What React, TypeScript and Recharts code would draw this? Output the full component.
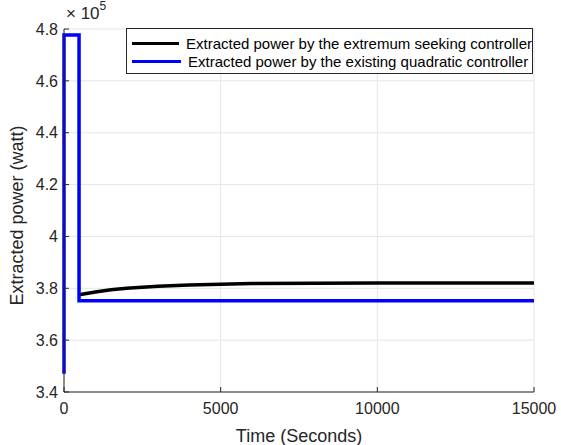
import { LineChart, Line, XAxis, YAxis, CartesianGrid } from "recharts";

// values in units of 1e5 watt
const quadTime = [0, 0, 480, 480, 15000];
const quadPower = [3.47, 4.777, 4.777, 3.752, 3.752];

const esTime = [480, 1000, 1500, 2000, 3000, 4000, 5000, 6000, 8000, 10000, 15000];
const esPower = [3.775, 3.786, 3.794, 3.8, 3.808, 3.813, 3.816, 3.818, 3.819, 3.82, 3.82];

const xTicks = [0, 5000, 10000, 15000];
const yTicks = [3.4, 3.6, 3.8, 4, 4.2, 4.4, 4.6, 4.8];

const seriesNames = [
  "Extracted power by the extremum seeking controller",
  "Extracted power by the existing quadratic controller",
];

const esData = esTime.map((t, i) => ({ t, p: esPower[i] }));
const quadData = quadTime.map((t, i) => ({ t, p: quadPower[i] }));

const font = "'Liberation Sans', Arial, sans-serif";
const tickStyle = { fontSize: 16, fill: "#262626", fontFamily: font };
const labelStyle = { fontSize: 18, fill: "#262626", fontFamily: font };

function LegendBox() {
  const colors = ["#000000", "#0000ff"];
  return (
    <div
      style={{
        position: "absolute",
        left: 126,
        top: 28,
        width: 407,
        height: 46,
        border: "1px solid #262626",
        background: "#fff",
        boxSizing: "border-box",
        fontFamily: font,
        fontSize: 15,
        color: "#000",
        paddingTop: 5,
      }}
    >
      {seriesNames.map((n, i) => (
        <div key={n} style={{ display: "flex", alignItems: "center", height: 18, whiteSpace: "nowrap" }}>
          <div style={{ width: 49, height: 3, background: colors[i], marginLeft: 5, marginRight: 7 }} />
          <span>{n}</span>
        </div>
      ))}
    </div>
  );
}

export default function App() {
  return (
    <div style={{ position: "absolute", left: 0, top: 0, width: 561, height: 445, background: "#fff" }}>
      <LineChart width={561} height={445} margin={{ top: 29, right: 27, left: 0, bottom: 0 }}>
        <CartesianGrid stroke="#e6e6e6" />
        <XAxis
          dataKey="t"
          type="number"
          domain={[0, 15000]}
          ticks={xTicks}
          allowDuplicatedCategory={false}
          height={53}
          stroke="#262626"
          tickSize={-5}
          tickMargin={16}
          tick={tickStyle}
          label={{ value: "Time (Seconds)", position: "insideBottom", offset: 3, style: labelStyle }}
        />
        <XAxis
          xAxisId="top"
          orientation="top"
          type="number"
          domain={[0, 15000]}
          ticks={xTicks}
          height={0}
          stroke="#262626"
          tickSize={-5}
          tickFormatter={() => ""}
        />
        <YAxis
          type="number"
          domain={[3.4, 4.8]}
          ticks={yTicks}
          width={64}
          stroke="#262626"
          tickSize={-5}
          tickMargin={11}
          tick={tickStyle}
          tickFormatter={(v: number) => String(Math.round(v * 10) / 10)}
          label={{ value: "Extracted power (watt)", angle: -90, position: "insideLeft", offset: 17, dy: 95, style: labelStyle }}
        />
        <YAxis
          yAxisId="right"
          orientation="right"
          type="number"
          domain={[3.4, 4.8]}
          ticks={yTicks}
          width={0}
          stroke="#262626"
          tickSize={-5}
          tickFormatter={() => ""}
        />
        <Line data={esData} dataKey="p" name={seriesNames[0]} stroke="#000000" strokeWidth={3.5} dot={false} type="linear" isAnimationActive={false} />
        <Line data={quadData} dataKey="p" name={seriesNames[1]} stroke="#0000ff" strokeWidth={3.5} dot={false} type="linear" isAnimationActive={false} />
      </LineChart>
      <LegendBox />
      <div style={{ position: "absolute", left: 66, top: 4, fontFamily: font, fontSize: 17, color: "#262626" }}>
        × 10<sup style={{ fontSize: 12, verticalAlign: "top", position: "relative", top: -5 }}>5</sup>
      </div>
    </div>
  );
}
